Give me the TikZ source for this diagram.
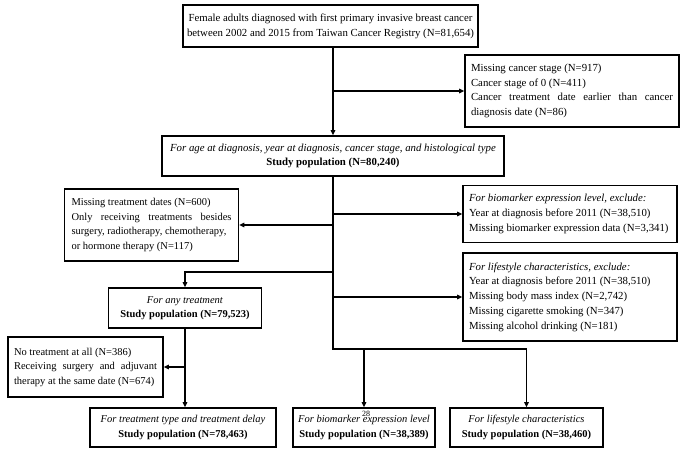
\documentclass[tikz,border=0pt]{standalone}
\usepackage{fontspec}
\setmainfont{Liberation Serif}
\usetikzlibrary{arrows.meta}
\newcommand{\boxfont}{\fontsize{10.5}{14.5}\selectfont}
\newcommand{\bigboxfont}{\fontsize{10.8}{14.8}\selectfont}
% full-width line with stretched word spaces
\newcommand{\spread}[2]{\makebox[#1][s]{\spaceskip=.25em plus 1fil\relax#2}}
\tikzset{
  >={Triangle[length=5pt,width=4.5pt]},
  flow/.style={->, line width=1.5pt},
  trunk/.style={line width=1.5pt},
  popbox/.style={draw, line width=1.6pt, align=flush center, inner sep=2pt, font=\boxfont},
  exclbox/.style={draw, line width=1.6pt, align=flush left, inner xsep=7pt, inner ysep=3pt, font=\boxfont},
  pagenum/.style={font=\fontsize{8}{8}\selectfont, inner sep=0pt}
}

\begin{document}
\begin{tikzpicture}[x=1pt, y=-1pt]
  \useasboundingbox (0,0) rectangle (685,451);

  % Study populations.
  \node[popbox, font=\bigboxfont, minimum width=295pt, minimum height=42pt] (registry) at (330.5,26) {Female adults diagnosed with first primary invasive breast cancer\\between 2002 and 2015 from Taiwan Cancer Registry (N=81,654)};
  \node[popbox, font=\bigboxfont, minimum width=342pt, minimum height=40pt] (basepop) at (333,156) {\textit{For age at diagnosis, year at diagnosis, cancer stage, and histological type}\\\textbf{Study population (N=80,240)}};
  \node[popbox, minimum width=153pt, minimum height=40pt] (anytx) at (185,308) {\textit{For any treatment}\\\textbf{Study population (N=79,523)}};
  \node[popbox, minimum width=186pt, minimum height=39pt] (txpop) at (183,427.5) {\textit{For treatment type and treatment delay}\\\textbf{Study population (N=78,463)}};
  \node[popbox, minimum width=142pt, minimum height=39pt] (biopop) at (364,427.5) {\textit{For biomarker expression level}\\\textbf{Study population (N=38,389)}};
  \node[popbox, minimum width=153pt, minimum height=39pt] (lifepop) at (526.5,427.5) {\textit{For lifestyle characteristics}\\\textbf{Study population (N=38,460)}};
  \node[pagenum] (pageno) at (366,414) {28};

  % Exclusions.
  \node[exclbox, font=\bigboxfont, inner xsep=6pt, text width=202pt, minimum height=72pt] (stageexcl) at (572,91) {Missing cancer stage (N=917)\\Cancer stage of 0 (N=411)\\\spread{202pt}{Cancer treatment date earlier than cancer}\\diagnosis date (N=86)};
  \node[exclbox, text width=160pt, minimum height=72pt] (datesexcl) at (151.5,225) {Missing treatment dates (N=600)\\\spread{160pt}{Only receiving treatments besides}\\surgery, radiotherapy, chemotherapy,\\or hormone therapy (N=117)};
  \node[exclbox, font=\bigboxfont, inner xsep=6pt, text width=202pt, minimum height=57pt] (bioexcl) at (570,214) {\textit{For biomarker expression level, exclude:}\\Year at diagnosis before 2011 (N=38,510)\\Missing biomarker expression data (N=3,341)};
  \node[exclbox, font=\bigboxfont, inner xsep=6pt, text width=202pt, minimum height=88pt] (lifeexcl) at (570,297) {\textit{For lifestyle characteristics, exclude:}\\Year at diagnosis before 2011 (N=38,510)\\Missing body mass index (N=2,742)\\Missing cigarette smoking (N=347)\\Missing alcohol drinking (N=181)};
  \node[exclbox, inner xsep=6pt, text width=143pt, minimum height=60pt] (notxexcl) at (85.5,367) {No treatment at all (N=386)\\\spread{143pt}{Receiving surgery and adjuvant}\\therapy at the same date (N=674)};

  % Main trunk and its branches.
  \coordinate (anyturn) at (333,272);
  \coordinate (trunkend) at (333,349);
  \draw[flow] (basepop.north |- registry.south) -- (basepop.north);
  \draw[flow] (basepop.north |- stageexcl.west) -- (stageexcl.west);
  \draw[trunk] (basepop.south) -- (trunkend) -- (lifepop.north |- trunkend);
  \draw[flow] (basepop.south |- datesexcl.east) -- (datesexcl.east);
  \draw[flow] (basepop.south |- bioexcl.west) -- (bioexcl.west);
  \draw[flow] (basepop.south |- lifeexcl.west) -- (lifeexcl.west);
  \draw[flow] (anyturn) -- (anytx.north |- anyturn) -- (anytx.north);
  \draw[flow] (biopop.north |- trunkend) -- (biopop.north);
  \draw[flow] (lifepop.north |- trunkend) -- (lifepop.north);

  % Treatment lane.
  \draw[flow] (anytx.south) -- (anytx.south |- txpop.north);
  \draw[flow] (anytx.south |- notxexcl.east) -- (notxexcl.east);
\end{tikzpicture}
\end{document}
